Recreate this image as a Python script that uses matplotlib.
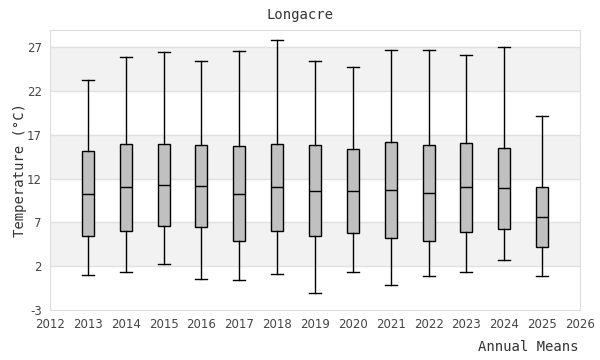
import matplotlib
matplotlib.use('Agg')
import matplotlib.pyplot as plt

plt.rcParams['axes.unicode_minus'] = False

# annual temperature distributions
years = [2013, 2014, 2015, 2016, 2017, 2018, 2019, 2020, 2021, 2022, 2023, 2024, 2025]
whisker_low = [0.97, 1.31, 2.23, 0.51, 0.40, 1.08, -1.09, 1.31, -0.18, 0.85, 1.31, 2.69, 0.85]
q1 = [5.44, 6.0, 6.58, 6.47, 4.86, 6.0, 5.44, 5.78, 5.21, 4.86, 5.89, 6.24, 4.18]
medians = [10.24, 11.05, 11.27, 11.16, 10.24, 11.05, 10.59, 10.59, 10.70, 10.36, 11.05, 10.93, 7.61]
q3 = [15.13, 15.97, 15.97, 15.85, 15.74, 15.97, 15.85, 15.40, 16.2, 15.85, 16.08, 15.51, 11.05]
whisker_high = [23.25, 25.86, 26.43, 25.41, 26.55, 27.8, 25.41, 24.73, 26.66, 26.77, 26.09, 27.0, 19.16]

y_ticks = [-3, 2, 7, 12, 17, 22, 27]
x_ticks = list(range(2012, 2027))

fig = plt.figure(figsize=(6, 3.6), dpi=100)
ax = fig.add_axes([0.0833, 0.1389, 0.8834, 0.7778])

ax.set_xlim(2012, 2026)
ax.set_ylim(-3, 29)

# alternating background bands
for i in range(len(y_ticks) - 1):
    if i % 2 == 1:
        ax.axhspan(y_ticks[i], y_ticks[i + 1], color='#f2f2f2', zorder=0, lw=0)
for t in y_ticks[1:]:
    ax.axhline(t, color='#e0e0e0', lw=1, zorder=1)

stats = []
for i in range(len(years)):
    stats.append({'whislo': whisker_low[i], 'q1': q1[i], 'med': medians[i],
                  'q3': q3[i], 'whishi': whisker_high[i], 'fliers': []})

ax.bxp(stats, positions=years, widths=0.32, patch_artist=True, showfliers=False,
       manage_ticks=False,
       boxprops=dict(facecolor='#c0c0c0', edgecolor='black', lw=1.0),
       medianprops=dict(color='black', lw=1.0),
       whiskerprops=dict(color='black', lw=1.0),
       capprops=dict(color='black', lw=1.0),
       capwidths=0.32)

ax.set_xticks(x_ticks)
ax.set_yticks(y_ticks)
ax.tick_params(length=0, labelsize=8.5, colors='#444444', pad=6)
for s in ax.spines.values():
    s.set_color('#dddddd')

fig.text(0.5, 0.958, 'Longacre', ha='center', va='center',
         fontsize=10, family='DejaVu Sans Mono', color='#333333')
ax.set_ylabel('Temperature (°C)', fontsize=10, family='DejaVu Sans Mono',
              color='#333333', labelpad=0)
fig.text(0.965, 0.036, 'Annual Means', ha='right', va='center',
         fontsize=10, family='DejaVu Sans Mono', color='#333333')

fig.savefig('out.png', dpi=100)
